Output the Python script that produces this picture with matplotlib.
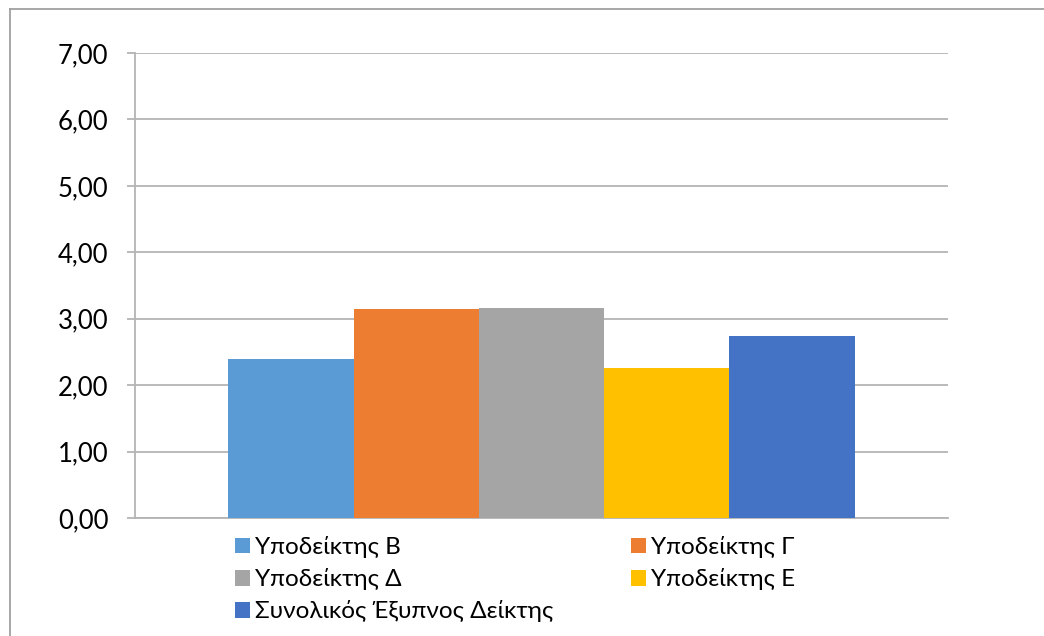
import matplotlib
matplotlib.use("Agg")
import matplotlib.pyplot as plt
from matplotlib.lines import Line2D
import numpy as np

plt.rcParams['font.family'] = ['Lato', 'Noto Sans']

# data
series = ['Υποδείκτης Β', 'Υποδείκτης Γ', 'Υποδείκτης Δ', 'Υποδείκτης Ε',
          'Συνολικός Έξυπνος Δείκτης']
values = [2.39, 3.15, 3.16, 2.26, 2.74]
colors = ['#5b9bd5', '#ed7d31', '#a5a5a5', '#ffc000', '#4472c4']
yticks = [0, 1, 2, 3, 4, 5, 6, 7]

W, H = 1044, 636
fig = plt.figure(figsize=(W / 100, H / 100), dpi=100)
ax = fig.add_axes([135 / W, 1 - 518 / H, (948 - 135) / W, (518 - 53) / H])

grid_c = '#b4b4b4'
group_w = 0.77
bw = group_w / len(values)
handles = []
for i, (name, v, c) in enumerate(zip(series, values, colors)):
    x = -group_w / 2 + bw * (i + 0.5)
    b = ax.bar(x, v, width=bw, color=c, label=name, zorder=3)
    handles.append(b)

ax.set_xlim(-0.5, 0.5)
ax.set_ylim(0, 7)
ax.set_yticks(yticks)
ax.set_yticklabels([f'{t:.2f}'.replace('.', ',') for t in yticks], fontsize=18.5)
ax.set_xticks([])
ax.grid(axis='y', color=grid_c, linewidth=1.3, zorder=0)
for s in ['top', 'right']:
    ax.spines[s].set_visible(False)
ax.spines['left'].set_color(grid_c)
ax.spines['bottom'].set_color(grid_c)
ax.spines['left'].set_linewidth(1.3)
ax.spines['bottom'].set_linewidth(1.3)
ax.tick_params(axis='y', length=6, color=grid_c, width=1.3, pad=13)

# legend, row-wise order in two columns
order = [0, 2, 4, 1, 3]
leg = fig.legend([handles[i] for i in order], [series[i] for i in order],
                 ncol=2, loc='upper left', bbox_to_anchor=(235 / W, 1 - 536 / H),
                 frameon=False, fontsize=17.5, handlelength=0.62, handleheight=0.62,
                 handletextpad=0.2, columnspacing=3.2, labelspacing=0.42,
                 borderaxespad=0, borderpad=0)

# outer chart frame (only left and top edges visible)
fig.add_artist(Line2D([10 / W, 10 / W], [1 - 9 / H, 0], transform=fig.transFigure,
                      color='#a0a0a0', linewidth=1.3))
fig.add_artist(Line2D([10 / W, 1], [1 - 9 / H, 1 - 9 / H], transform=fig.transFigure,
                      color='#a0a0a0', linewidth=1.3))

fig.savefig('out.png', dpi=100)
